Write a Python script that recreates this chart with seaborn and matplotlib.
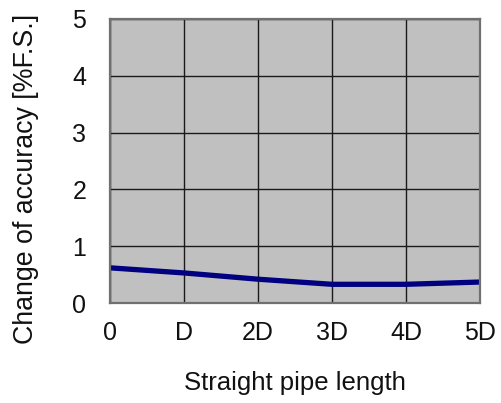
import matplotlib
matplotlib.use("Agg")
import matplotlib.pyplot as plt
import seaborn as sns
import pandas as pd

x_labels = ["0", "D", "2D", "3D", "4D", "5D"]
x_pos = [0, 1, 2, 3, 4, 5]
accuracy = [0.62, 0.53, 0.42, 0.33, 0.33, 0.37]
y_ticks = [0, 1, 2, 3, 4, 5]

sns.set_theme(style="white")
plt.rcParams['font.family'] = ['Liberation Sans', 'DejaVu Sans']

fig = plt.figure(figsize=(5.02, 4.03), dpi=100)
ax = fig.add_axes([0.219, 0.248, 0.737, 0.705])
ax.set_facecolor("#c0c0c0")

df = pd.DataFrame({"x": x_pos, "y": accuracy})
sns.lineplot(data=df, x="x", y="y", ax=ax, color="#000080", linewidth=3.8)

ax.set_xlim(0, 5)
ax.set_ylim(0, 5)
ax.set_xticks(x_pos)
ax.set_xticklabels(x_labels)
ax.set_yticks(y_ticks)
ax.grid(True, color="#1a1a1a", linewidth=1.0)
ax.set_axisbelow(True)
for s in ax.spines.values():
    s.set_color("#707070")
    s.set_linewidth(1.6)
ax.tick_params(axis="x", length=0, pad=13, labelsize=18, colors="#111111")
ax.tick_params(axis="y", length=0, pad=17, labelsize=18, colors="#111111")
ax.set_xlabel("Straight pipe length", fontsize=18.5, color="#111111")
ax.set_ylabel("Change of accuracy [%F.S.]", fontsize=19.3, color="#111111")
ax.xaxis.label.set_va("center")
ax.yaxis.label.set_va("center")
ax.xaxis.set_label_coords(0.5, -0.282)
ax.yaxis.set_label_coords(-0.227, 0.437)

fig.savefig("out.png", dpi=100)
